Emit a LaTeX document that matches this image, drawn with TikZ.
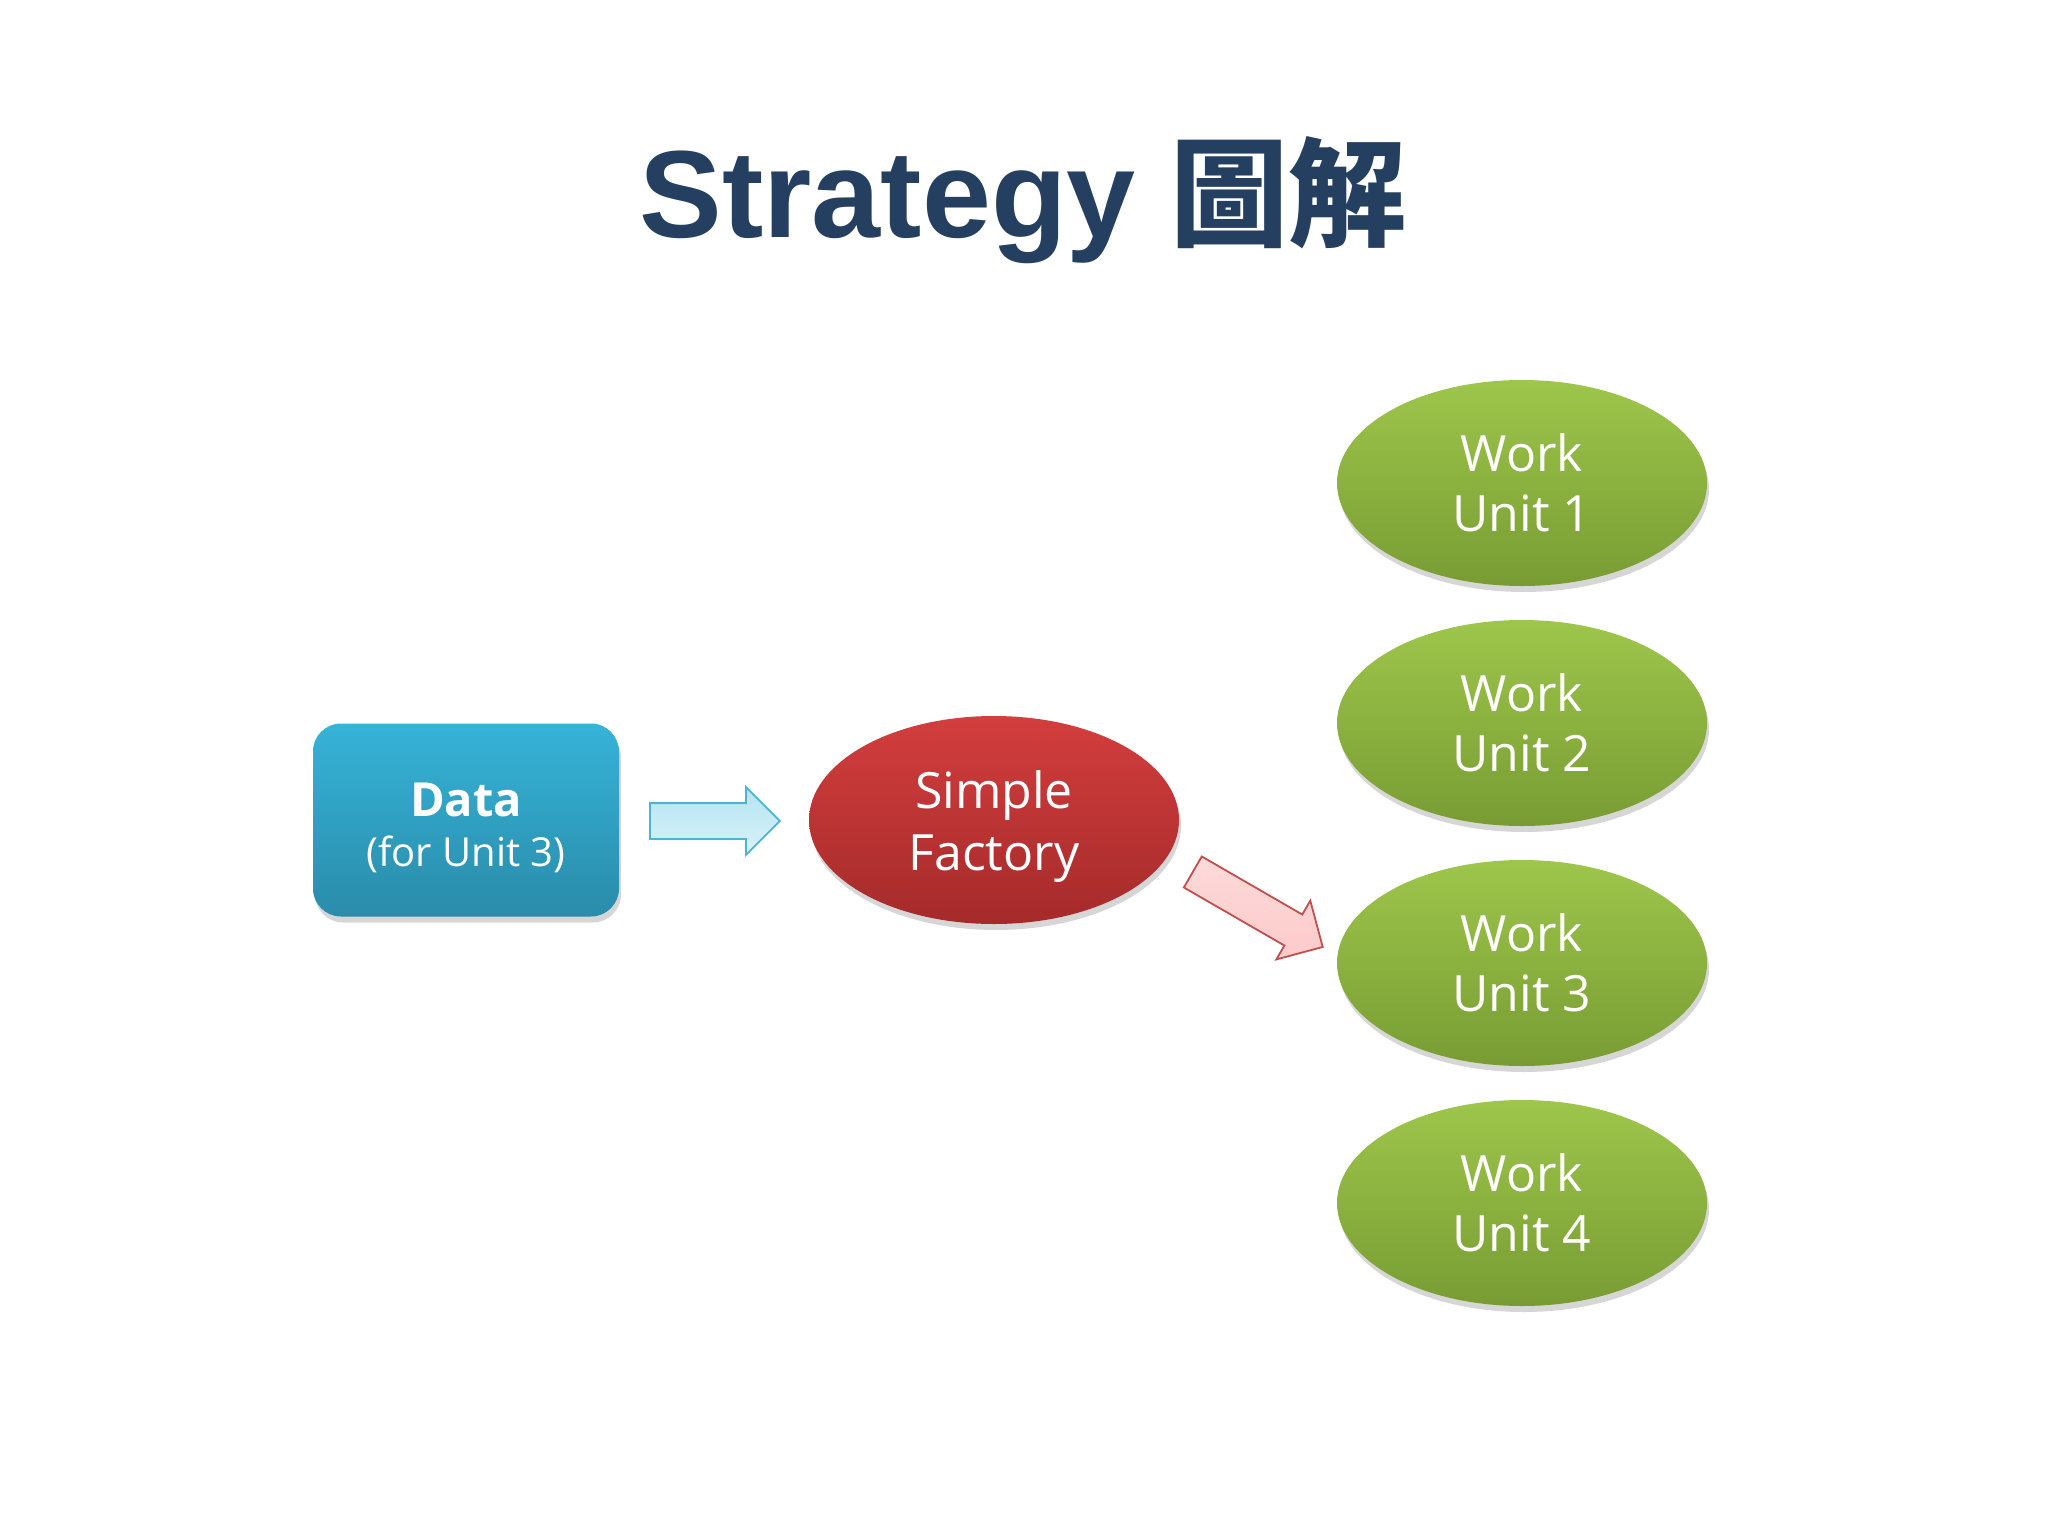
\documentclass[tikz,border=0pt]{standalone}
\usepackage{fontspec}
\setmainfont{Open Sans}
\newfontfamily\titlefont{Liberation Sans}
\newfontfamily\cjk{Noto Sans CJK TC}
\usetikzlibrary{shapes.geometric,shapes.arrows,shadows}
\definecolor{titleblue}{HTML}{243F60}
\definecolor{boxtop}{HTML}{36B3D8}
\definecolor{boxbot}{HTML}{2A8CAA}
\definecolor{redtop}{HTML}{D33E3E}
\definecolor{redbot}{HTML}{A52A2A}
\definecolor{greentop}{HTML}{9EC64B}
\definecolor{greenbot}{HTML}{789C33}
\definecolor{cyanfill}{HTML}{D8F3FA}
\definecolor{cyanedge}{HTML}{4BB6D4}
\definecolor{pinkfill}{HTML}{FDCACA}
\definecolor{pinkedge}{HTML}{C0504D}
\tikzset{
  softshadow/.style={drop shadow={shadow xshift=2pt, shadow yshift=-6pt, opacity=0.16, fill=black}},
  databox/.style={rectangle, rounded corners=28pt, minimum width=306pt, minimum height=193pt,
    top color=boxtop, bottom color=boxbot, softshadow},
  factory/.style={ellipse, minimum width=370pt, minimum height=208pt,
    top color=redtop, bottom color=redbot, softshadow},
  unit/.style={ellipse, minimum width=370pt, minimum height=206pt,
    top color=greentop, bottom color=greenbot, softshadow, text=white, align=center, inner sep=0pt,
    font=\fontsize{50}{60}\selectfont},
  lbl/.style={text=white, align=center, inner sep=0pt},
  blockarrow/.style={single arrow, single arrow head extend=16pt, text width=0pt, text height=34pt,
    text depth=0pt, inner sep=0pt, minimum height=#1, line width=1.8pt},
}
\begin{document}
\begin{tikzpicture}[x=1pt,y=-1pt]
\useasboundingbox[fill=white] (0,0) rectangle (2048,1536);
\node[anchor=base, text=titleblue, inner sep=0pt] (title) at (1023,237)
  {\titlefont\bfseries\fontsize{124}{140}\selectfont Strategy {\cjk\bfseries\fontsize{118}{140}\selectfont 圖解}};
\node[databox] (data) at (466,820) {};
\node[lbl, font=\fontsize{40}{50}\selectfont] (datatext) at ([yshift=-8pt]data.center)
  {{\bfseries\fontsize{47}{50}\selectfont Data}\\(for Unit 3)};
\node[factory] (sf) at (994,820) {};
\node[lbl, font=\fontsize{50}{62}\selectfont] (sftext) at ([yshift=-7pt]sf.center) {Simple\\Factory};
\node[unit] (u1) at (1522,483) {Work\\Unit 1};
\node[unit] (u2) at (1522,723) {Work\\Unit 2};
\node[unit] (u3) at (1522,963) {Work\\Unit 3};
\node[unit] (u4) at (1522,1203) {Work\\Unit 4};
\node[blockarrow=130pt, draw=cyanedge, top color=cyanfill!75!cyanedge, bottom color=cyanfill] (a1) at (706,821) {};
\node[blockarrow=150pt, draw=pinkedge, top color=pinkfill!70!white, bottom color=pinkfill, rotate=-30] (a2) at (1250,905) {};
\end{tikzpicture}
\end{document}
